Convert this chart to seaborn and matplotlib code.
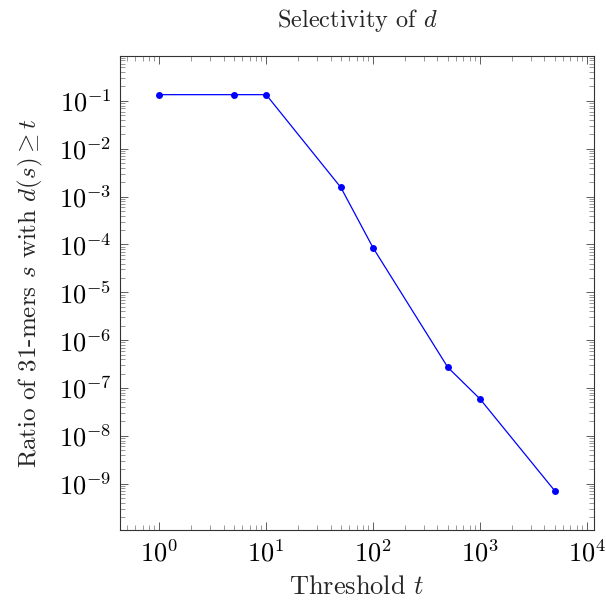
import numpy as np
import pandas as pd
import matplotlib
matplotlib.use("Agg")
import matplotlib.pyplot as plt
import matplotlib.ticker as mticker
import seaborn as sns

# Data
thresholds = [1, 5, 10, 50, 100, 500, 1000, 5000]
ratios = [0.135, 0.135, 0.135, 1.55e-3, 8.5e-5, 2.7e-7, 5.9e-8, 7.1e-10]

df = pd.DataFrame({"t": thresholds, "ratio": ratios})

sns.set_style("ticks")
plt.rcParams["font.family"] = ["cmr10", "DejaVu Serif"]
plt.rcParams["mathtext.fontset"] = "cm"
plt.rcParams["axes.formatter.use_mathtext"] = True
plt.rcParams["axes.unicode_minus"] = True

fig = plt.figure(figsize=(6.06, 6.08), dpi=100)
ax = fig.add_axes([0.198, 0.128, 0.782, 0.780])

sns.lineplot(data=df, x="t", y="ratio", ax=ax, color="#0000ff", linewidth=0.9,
             marker="o", markersize=5, markeredgewidth=0, markerfacecolor="#0000ff")

ax.set_xscale("log")
ax.set_yscale("log")
ax.set_xlim(0.43, 11600)
ax.set_ylim(1.07e-10, 0.87)

ax.xaxis.set_major_locator(mticker.LogLocator(base=10, numticks=20))
ax.xaxis.set_minor_locator(mticker.LogLocator(base=10, subs=np.arange(2, 10), numticks=20))
ax.yaxis.set_major_locator(mticker.LogLocator(base=10, numticks=20))
ax.yaxis.set_minor_locator(mticker.LogLocator(base=10, subs=np.arange(2, 10), numticks=20))
ax.xaxis.set_minor_formatter(mticker.NullFormatter())
ax.yaxis.set_minor_formatter(mticker.NullFormatter())

ax.tick_params(which="both", direction="in", top=True, right=True, labelsize=19, colors="#000000")
ax.tick_params(which="major", length=6, width=0.6, color="#444444")
ax.tick_params(which="minor", length=3.5, width=0.6, color="#888888")
ax.tick_params(axis="x", which="major", pad=7)
ax.tick_params(axis="y", which="major", pad=6)
for s in ax.spines.values():
    s.set_linewidth(0.8)
    s.set_color("#333333")

ax.set_title("Selectivity of $d$", fontsize=17.5, pad=21)
ax.set_xlabel("Threshold $t$", fontsize=19, labelpad=6)
ax.set_ylabel("Ratio of 31-mers $s$ with $d(s) \\geq t$", fontsize=18, labelpad=10)

fig.savefig("out.png", dpi=100)
